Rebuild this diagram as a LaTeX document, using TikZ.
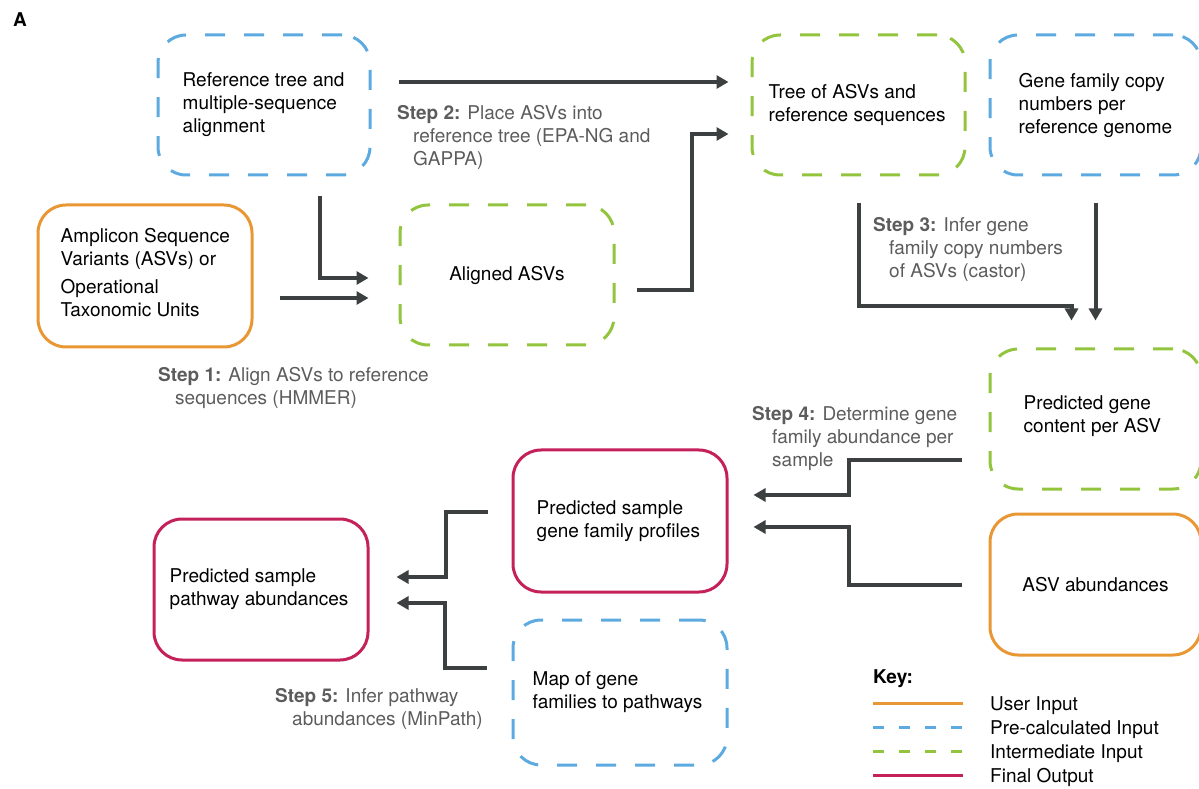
\documentclass[tikz,border=0pt]{standalone}
\usepackage{fontspec}
\setmainfont{TeX Gyre Heros}
\usepackage{tikz}
\usetikzlibrary{arrows.meta,shapes}
\pgfdeclarelayer{edgelayer}
\pgfdeclarelayer{nodelayer}
\pgfsetlayers{edgelayer,nodelayer,main}
\definecolor{userorange}{RGB}{232,151,52}
\definecolor{precalcblue}{RGB}{93,170,224}
\definecolor{intermgreen}{RGB}{146,196,62}
\definecolor{finalred}{RGB}{196,32,90}
\definecolor{arrowgray}{RGB}{60,64,64}
\definecolor{stepgray}{RGB}{92,92,92}
\newcommand{\boxfont}{\fontsize{19}{23}\selectfont}
\newcommand{\stepnum}[1]{\textbf{Step #1:}}
\tikzstyle{stage}=[rectangle, rounded corners=28pt, line width=3pt, minimum width=214pt, minimum height=140pt, align=left, font=\boxfont]
\tikzstyle{userin}=[stage, draw=userorange]
\tikzstyle{precalc}=[stage, draw=precalcblue, dash pattern=on 20pt off 19pt]
\tikzstyle{interm}=[stage, draw=intermgreen, dash pattern=on 20pt off 19pt]
\tikzstyle{finalout}=[stage, draw=finalred]
\tikzstyle{boxtext}=[anchor=west, inner sep=0pt, align=left, font=\boxfont]
\tikzstyle{steplabel}=[anchor=north west, inner sep=0pt, align=left, text=stepgray, font=\boxfont]
\tikzstyle{flow}=[draw=arrowgray, line width=4pt, -{Triangle[length=12pt,width=13pt]}]
\tikzstyle{keytext}=[anchor=base west, inner sep=0pt, font=\boxfont]
\tikzstyle{keyline}=[line width=3pt]

\begin{document}
\begin{tikzpicture}[x=1pt, y=1pt]
    \useasboundingbox (0,0) rectangle (1199,788);
    \begin{pgfonlayer}{nodelayer}
        \node [anchor=north west, inner sep=0pt, font=\boxfont\bfseries] (panel) at (13, 776) {A};
        % boxes
        \node [style=precalc, minimum width=212pt] (reftree) at (264, 683) {};
        \node [style=userin, minimum height=142pt] (amplicon) at (145, 512) {};
        \node [style=interm] (aligned) at (507, 513) {Aligned ASVs};
        \node [style=interm, minimum width=213pt] (treeasv) at (858.5, 683) {};
        \node [style=precalc, minimum width=211pt] (genefam) at (1095.5, 683) {};
        \node [style=interm, minimum width=211pt] (genecontent) at (1095.5, 369) {};
        \node [style=userin, minimum width=211pt, minimum height=141pt] (asvab) at (1095.5, 203.5) {ASV abundances};
        \node [style=finalout, minimum height=142pt] (geneprof) at (620, 267) {};
        \node [style=finalout, minimum height=141pt] (pathway) at (261, 198.5) {};
        \node [style=precalc, minimum height=145pt] (mapgf) at (620, 95.5) {};
        % box texts
        \node [style=boxtext] (reftreetxt) at ([xshift=26]reftree.west) {Reference tree and\\multiple-sequence\\alignment};
        \node [style=boxtext] (amplicontxt) at ([shift={(24,3)}]amplicon.west) {Amplicon Sequence\\Variants (ASVs) or\\[5pt]Operational\\Taxonomic Units};
        \node [style=boxtext] (treeasvtxt) at ([xshift=18]treeasv.west) {Tree of ASVs and\\reference sequences};
        \node [style=boxtext] (genefamtxt) at ([xshift=30]genefam.west) {Gene family copy\\numbers per\\reference genome};
        \node [style=boxtext] (genecontenttxt) at ([shift={(35,3)}]genecontent.west) {Predicted gene\\content per ASV};
        \node [style=boxtext] (geneproftxt) at ([xshift=25]geneprof.west) {Predicted sample\\gene family profiles};
        \node [style=boxtext] (pathwaytxt) at ([xshift=17]pathway.west) {Predicted sample\\pathway abundances};
        \node [style=boxtext] (mapgftxt) at ([xshift=21]mapgf.west) {Map of gene\\families to pathways};
        % step labels
        \node [style=steplabel] (step1) at (158, 421) {\stepnum{1} Align ASVs to reference\\\hspace*{17pt}sequences (HMMER)};
        \node [style=steplabel] (step2) at (397, 683) {\stepnum{2} Place ASVs into\\\hspace*{16pt}reference tree (EPA-NG and\\\hspace*{16pt}GAPPA)};
        \node [style=steplabel] (step3) at (873, 571) {\stepnum{3} Infer gene\\\hspace*{16pt}family copy numbers\\\hspace*{16pt}of ASVs (castor)};
        \node [style=steplabel] (step4) at (752, 382) {\stepnum{4} Determine gene\\\hspace*{20pt}family abundance per\\\hspace*{20pt}sample};
        \node [style=steplabel] (step5) at (275, 100) {\stepnum{5} Infer pathway\\\hspace*{17pt}abundances (MinPath)};
        % key
        \node [anchor=north west, inner sep=0pt, font=\boxfont\bfseries] (key) at (873, 119) {Key:};
        \node [style=keytext] (kuser) at (990, 77.5) {User Input};
        \node [style=keytext] (kprecalc) at (990, 53.5) {Pre-calculated Input};
        \node [style=keytext] (kinterm) at (990, 29.5) {Intermediate Input};
        \node [style=keytext] (kfinal) at (990, 5.5) {Final Output};
    \end{pgfonlayer}
    \begin{pgfonlayer}{edgelayer}
        \draw [style=flow] ([shift={(27,23)}]reftree.east) to ([shift={(-22,23)}]reftree.east -| treeasv.west);
        \draw [style=flow] ([shift={(56,-20)}]reftree.south) |- ([shift={(-30,-3)}]aligned.west);
        \draw [style=flow] ([shift={(26,-22)}]amplicon.east) to ([shift={(-30,-23)}]aligned.west);
        \draw [style=flow] ([shift={(21,-15)}]aligned.east) -- ++(55,0) |- ([shift={(-22,-29)}]treeasv.west);
        \draw [style=flow] ([yshift=-27]treeasv.south) -- ++(0,-103) -| ([shift={(-24,27)}]genecontent.north);
        \draw [style=flow] ([yshift=-27]genefam.south) to ([yshift=27]genecontent.north);
        \draw [style=flow] ([shift={(-27,-41)}]genecontent.west) -- ++(-113,0) |- ([shift={(25,26)}]geneprof.east);
        \draw [style=flow] ([xshift=-27]asvab.west) -- ++(-113,0) |- ([shift={(25,-6)}]geneprof.east);
        \draw [style=flow] ([shift={(-24,9)}]geneprof.west) -- ++(-42,0) |- ([shift={(27,12.5)}]pathway.east);
        \draw [style=flow] ([shift={(-25,24.5)}]mapgf.west) -- ++(-42,0) |- ([shift={(27,-13.5)}]pathway.east);
        % key swatches
        \draw [style=keyline, draw=userorange] ([shift={(-117,7.5)}]kuser.base west) -- ++(90,0);
        \draw [style=keyline, draw=precalcblue, dash pattern=on 11pt off 15pt] ([shift={(-117,7.5)}]kprecalc.base west) -- ++(90,0);
        \draw [style=keyline, draw=intermgreen, dash pattern=on 11pt off 15pt] ([shift={(-117,7.5)}]kinterm.base west) -- ++(90,0);
        \draw [style=keyline, draw=finalred] ([shift={(-117,7.5)}]kfinal.base west) -- ++(90,0);
    \end{pgfonlayer}
\end{tikzpicture}
\end{document}
